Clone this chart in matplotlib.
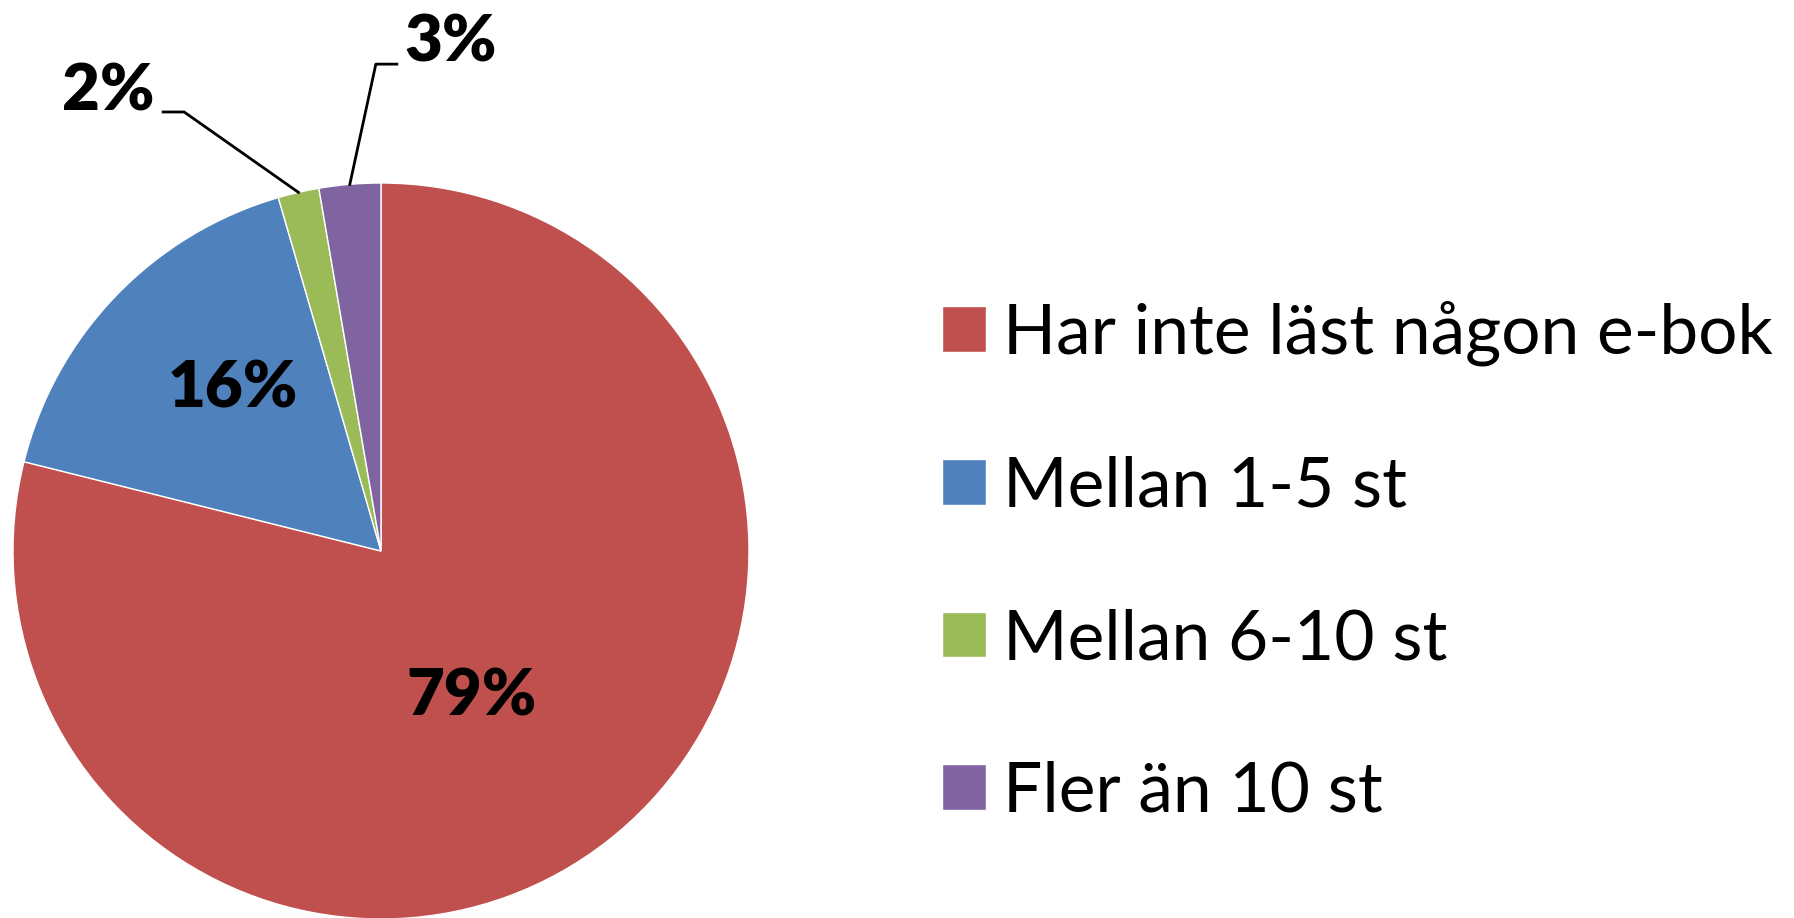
import matplotlib.pyplot as plt
import numpy as np

categories = ["Har inte läst någon e-bok", "Mellan 1-5 st", "Mellan 6-10 st", "Fler än 10 st"]
values = [78.9, 16.6, 1.8, 2.7]
pct_labels = ["79%", "16%", "2%", "3%"]
colors = ["#C0504D", "#4F81BD", "#9BBB59", "#8064A2"]

plt.rcParams['font.family'] = ['Lato', 'DejaVu Sans']

W, H = 1794, 918
fig = plt.figure(figsize=(W / 100, H / 100), dpi=100)
# pie centre at (381, 551) px from top-left, radius 368 px
cx, cy, r = 381, 551, 368
ax = fig.add_axes([(cx - r) / W, (H - cy - r) / H, 2 * r / W, 2 * r / H])

wedges, _ = ax.pie(values, colors=colors, startangle=90, counterclock=False,
                   wedgeprops=dict(edgecolor='white', linewidth=1))
ax.set_xlim(-1, 1)
ax.set_ylim(-1, 1)

# label positions (data units, baseline)
label_pos = [(0.247, -0.446), (-0.402, 0.389), (-0.742, 1.198), (0.190, 1.329)]
for (x, y), t in zip(label_pos, pct_labels):
    ax.text(x, y, t, ha='center', va='baseline', fontsize=47, fontweight='heavy')

# leader lines for the two small slices
elbows = {2: [(-0.592, 1.193), (-0.535, 1.193)], 3: [(0.043, 1.323), (-0.014, 1.323)]}
for i, pts in elbows.items():
    w = wedges[i]
    mid = np.deg2rad((w.theta1 + w.theta2) / 2)
    xs = [p[0] for p in pts] + [np.cos(mid)]
    ys = [p[1] for p in pts] + [np.sin(mid)]
    ax.plot(xs, ys, color='black', lw=2, clip_on=False)

fig.legend(wedges, categories, loc='center left', bbox_to_anchor=(942 / W, 1 - 562 / H),
           frameon=False, fontsize=50, handlelength=0.63, handleheight=0.63,
           handletextpad=0.25, labelspacing=1.29, borderpad=0, borderaxespad=0)

fig.savefig('out.png', dpi=100)
